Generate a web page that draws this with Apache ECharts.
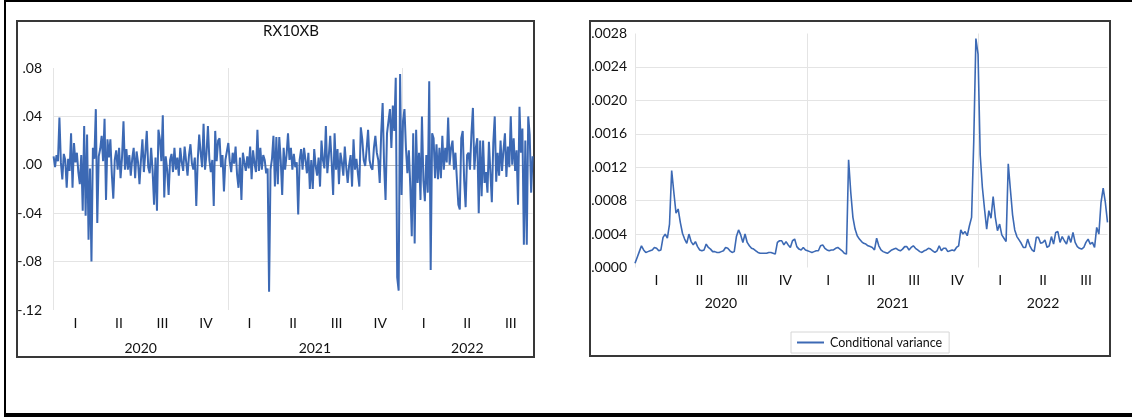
<!DOCTYPE html>
<html>
<head>
<meta charset="utf-8">
<script src="https://cdn.jsdelivr.net/npm/echarts@6/dist/echarts.min.js"></script>
<style>
  html, body { margin: 0; padding: 0; background: #fff; overflow: hidden; }
  #frame { position: absolute; left: 4px; top: 0; width: 1128px; height: 417px; box-sizing: border-box;
           border-top: 2px solid #000; border-left: 2px solid #000; border-bottom: 4px solid #000; }
  .panel { position: absolute; box-sizing: border-box; border: 2px solid #383838; }
  #chart { position: absolute; left: 0; top: 0; width: 1132px; height: 417px; }
</style>
</head>
<body>
<div id="frame"></div>
<div class="panel" style="left:16px;top:20px;width:519px;height:338px"></div>
<div class="panel" style="left:589px;top:20px;width:522px;height:337px"></div>
<div id="chart"></div>
<script>
// quarter / year labels, positions in half-quarter units (0..22 = Jan 2020 .. Sep 2022)
const QUARTERS = ["I", "II", "III", "IV"];
const YEARS    = { 4: "2020", 12: "2021", 19: "2022" };

// RX10XB daily returns, 30 points per quarter, 2020Q1 .. 2022Q3
const returns = [
  .007,-.002,.008,.003,.039,.002,-.012,.009,.004,-.019,.005,-.005,.026,-.019,.018,.002,.010,-.006,-.016,.008,-.038,.032,-.042,.025,-.062,-.003,-.080,.014,.005,.046,
  -.048,.007,.013,.024,.003,.038,-.029,.021,.006,.021,-.008,-.028,.004,.012,-.004,.014,-.011,.006,.036,-.004,.013,-.004,.008,-.009,.005,.014,-.011,.011,.002,-.016,
  .004,.021,-.006,.010,.028,-.002,-.007,.014,-.005,-.033,.006,-.038,.029,.021,.003,.041,-.027,.007,-.004,-.025,.004,.009,-.006,.014,-.004,.006,-.009,.014,.002,-.005,
  .015,.003,-.009,.008,.017,.001,-.004,.006,-.034,.004,.025,.010,-.002,.034,-.004,.009,.032,.004,-.006,.004,-.034,.028,.003,.020,.022,-.002,.008,-.022,.004,.011,
  .018,.003,-.006,.010,.001,.015,-.008,-.019,.006,-.029,.010,.002,-.005,.007,-.003,.015,-.012,.012,.001,-.006,.029,-.005,.014,-.004,.008,.004,-.007,-.003,-.105,-.004,
  .005,.024,-.018,.023,-.016,.023,.004,-.025,.014,-.004,.008,.026,.004,.014,-.004,.009,-.002,.002,-.041,.004,.013,-.004,.014,.004,-.007,.010,-.020,.004,-.020,.013,
  -.001,-.009,.006,-.018,.020,.004,-.003,.032,-.007,.007,.024,.002,-.025,.026,-.004,.013,-.016,.010,.002,-.009,.015,-.002,-.015,.000,.008,-.018,.021,-.004,.005,-.007,
  -.018,.031,.021,.004,-.001,.013,.029,.004,-.002,-.004,.014,.024,.010,.004,-.015,.026,.051,.000,-.029,.026,.026,.046,.014,.049,.028,.072,-.093,-.104,.075,-.025,
  .036,.046,.014,-.007,.012,-.018,-.059,.026,-.065,.029,-.015,.010,-.029,.040,-.013,-.030,.008,-.023,.069,-.087,.026,.022,-.011,.017,-.012,.014,-.011,.024,-.004,.014,
  .002,.039,.000,.014,.020,-.004,.010,-.012,-.033,-.037,.022,.028,-.013,-.035,.008,.010,-.004,.026,.047,-.004,.014,.022,-.040,.020,-.026,.020,-.015,-.006,-.023,.019,
  .019,-.031,.018,.040,-.014,.010,-.009,.020,-.005,.012,.026,-.010,.015,-.002,.040,.000,.022,-.005,.012,-.033,.048,.010,.030,-.066,.020,-.066,.040,.025,-.023,.007
];

// conditional variance, 20 points per quarter, 2020Q1 .. 2022Q3
const condVar = [
  .00005,.00012,.00019,.00026,.00021,.00018,.00019,.0002,.00021,.00024,.00023,.0002,.00021,.00036,.0004,.00035,.00052,.00116,.0009,.00065,
  .0007,.00054,.00041,.00034,.00029,.0004,.00031,.00027,.00031,.00025,.00021,.0002,.00021,.00028,.00024,.00022,.00019,.00019,.00018,.00018,
  .00019,.0002,.00024,.00023,.0002,.00018,.00019,.00037,.00045,.00039,.0003,.0004,.0003,.00026,.00023,.00022,.0002,.00018,.00017,.00017,
  .00017,.00017,.00018,.00018,.00017,.00016,.0003,.00032,.00032,.00027,.00031,.00027,.00024,.00032,.00034,.00025,.00022,.00021,.00024,.00021,
  .0002,.00019,.00018,.00019,.0002,.0002,.00026,.00027,.00023,.00021,.0002,.00021,.00021,.00023,.00024,.00022,.0002,.00017,.00016,.00129,
  .0009,.0006,.00046,.00038,.00034,.00031,.00029,.00028,.00026,.00025,.00024,.00021,.00035,.00026,.00021,.00019,.00018,.00017,.00019,.00021,
  .00022,.00023,.00021,.0002,.00022,.00025,.00025,.00021,.00024,.00026,.00023,.00021,.00019,.00018,.0002,.00021,.00023,.00022,.0002,.00018,
  .0002,.00026,.0002,.00023,.00023,.00019,.0002,.00021,.0002,.00024,.00026,.00045,.0004,.00043,.00038,.0005,.0006,.0015,.00274,.00255,
  .00135,.00096,.0007,.00046,.00068,.00059,.00085,.0006,.00044,.00052,.00039,.00035,.00031,.00124,.00093,.00063,.00045,.00037,.00033,.00029,
  .00024,.00024,.00034,.00026,.00021,.00019,.00036,.00036,.00029,.0003,.00033,.00024,.00026,.00037,.00028,.00042,.00043,.0003,.00037,.00032,
  .00028,.00038,.0003,.00042,.0003,.00025,.00023,.00022,.00024,.0003,.00034,.00028,.0003,.00024,.00048,.0004,.00078,.00095,.00078,.00054
];

const FONT  = "Lato";
const INK   = "#111";
const BLUE  = "#3c69b4";
const GRID  = "#e4e4e4";
const ZERO  = "#bdbdbd";
const NONE  = "transparent";

const label = (size, extra) => Object.assign({ fontFamily: FONT, fontSize: size, color: INK }, extra);

// year separators only (at 0, 8, 16 half-quarters)
const yearSplit = Array.from({ length: 23 }, (_, i) => (i % 8 === 0 && i < 22) ? GRID : NONE);

function timeAxes(gi, n, qMargin, yMargin) {
  const base = {
    type: "value", gridIndex: gi, min: 0, max: 22, interval: 1, position: "bottom",
    axisLine: { show: false, onZero: false }, axisTick: { show: false },
  };
  return [
    { type: "category", gridIndex: gi, position: "bottom", boundaryGap: false, show: false,
      axisLine: { onZero: false }, data: Array.from({ length: n }, (_, i) => i) },
    Object.assign({}, base, {
      splitLine: { show: true, lineStyle: { color: yearSplit, width: 1 } },
      axisLabel: label(14, { margin: qMargin, formatter: v => v % 2 === 1 ? QUARTERS[((v - 1) / 2) % 4] : "" }),
    }),
    Object.assign({}, base, {
      splitLine: { show: false },
      axisLabel: label(14, { margin: yMargin, formatter: v => YEARS[v] || "" }),
    }),
  ];
}

const chart = echarts.init(document.getElementById("chart"), null, { renderer: "canvas" });

chart.setOption({
  animation: false,
  backgroundColor: "transparent",
  title: {
    text: "RX10XB", left: 263, top: 24, padding: 0,
    textStyle: { fontFamily: FONT, fontSize: 15, fontWeight: "normal", color: INK },
  },
  legend: {
    data: ["Conditional variance"], left: 791, top: 332,
    padding: [4, 7, 4, 6], itemGap: 0, itemWidth: 27, itemHeight: 2, icon: "rect",
    borderColor: "#d6d6d6", borderWidth: 1,
    textStyle: { fontFamily: FONT, fontSize: 12.5, color: INK, padding: [0, 0, 0, 1] },
  },
  grid: [
    { left: 53.6, top: 68, width: 479, height: 242, outerBoundsMode: "none" },
    { left: 635, top: 33.5, width: 472.5, height: 234, outerBoundsMode: "none" },
  ],
  xAxis: [...timeAxes(0, returns.length, 6, 31), ...timeAxes(1, condVar.length, 6, 29)],
  yAxis: [
    {
      type: "value", gridIndex: 0, min: -0.12, max: 0.08, interval: 0.04,
      axisLine: { show: false, onZero: false }, axisTick: { show: false },
      splitLine: { lineStyle: { color: [NONE, GRID, GRID, ZERO, GRID, NONE] } },
      axisLabel: label(14, {
        margin: 11.5, padding: [0, 0, 4, 0],
        formatter: v => (v < -1e-9 ? "-" : "") + Math.abs(v).toFixed(2).slice(1),
      }),
    },
    {
      type: "value", gridIndex: 1, min: 0, max: 0.0028, interval: 0.0004,
      axisLine: { show: false, onZero: false }, axisTick: { show: false },
      splitLine: { lineStyle: { color: [NONE, GRID, GRID, GRID, GRID, GRID, GRID, NONE] } },
      axisLabel: label(14, {
        margin: 8, padding: [0, 0, 4, 0],
        formatter: v => v.toFixed(4).slice(1),
      }),
    },
  ],
  series: [
    {
      name: "RX10XB", type: "line", xAxisIndex: 0, yAxisIndex: 0, data: returns,
      showSymbol: false, silent: true, lineStyle: { color: BLUE, width: 2 }, itemStyle: { color: BLUE },
    },
    {
      name: "Conditional variance", type: "line", xAxisIndex: 3, yAxisIndex: 1, data: condVar,
      showSymbol: false, silent: true, lineStyle: { color: BLUE, width: 1.6 }, itemStyle: { color: BLUE },
    },
  ],
});
</script>
</body>
</html>
